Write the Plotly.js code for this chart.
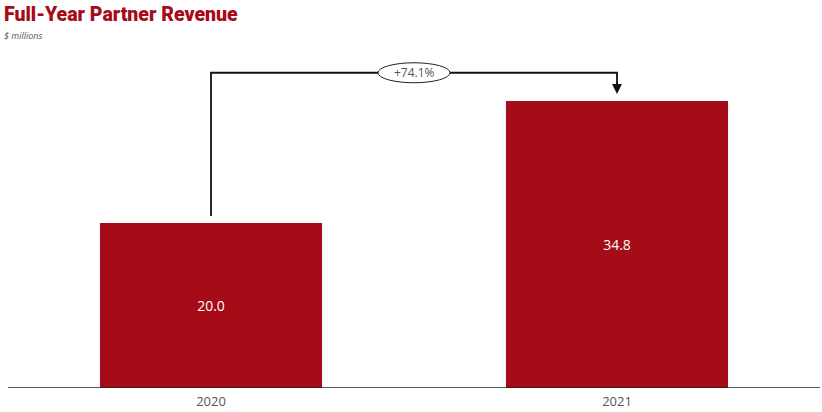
<!DOCTYPE html>
<html><head><meta charset="utf-8">
<script src="https://cdn.plot.ly/plotly-3.0.1.min.js"></script>
<style>html,body{margin:0;padding:0;background:#fff}#c{width:822px;height:412px}</style>
</head><body><div id="c"></div>
<script>
const years = ['2020', '2021'];
const revenue = [20.0, 34.8];
const changeLabel = '+74.1%';

const red = '#a60b18';
const yMax = 40;
const bracketY = revenue[1] * 1.098;
const startY = revenue[0] + 0.85;
const tipY = revenue[1] + 0.85;

const trace = {
  type: 'bar', x: [0, 1], y: revenue,
  marker: {color: red}, width: 0.547,
  text: revenue.map(v => v.toFixed(1)), textposition: 'inside', insidetextanchor: 'middle',
  textfont: {family: 'Open Sans, sans-serif', size: 14, color: '#ffffff'},
  hoverinfo: 'skip'
};

const pxX = 1 / 406, pxY = 1 / 8.25;
const layout = {
  width: 822, height: 412,
  margin: {l: 8, r: 2, t: 58, b: 24},
  paper_bgcolor: '#fff', plot_bgcolor: '#fff',
  showlegend: false,
  xaxis: {range: [-0.5, 1.5], tickvals: [0, 1], ticktext: years, showgrid: false, zeroline: false,
          showline: false, ticks: '', ticklabelstandoff: 4,
          tickfont: {family: 'Open Sans, sans-serif', size: 13, color: '#555'}, fixedrange: true},
  yaxis: {range: [0, yMax], visible: false, fixedrange: true},
  shapes: [
    {type: 'line', xref: 'paper', yref: 'y', x0: 0, x1: 1, y0: 0, y1: 0, line: {color: '#222', width: 1.5}},
    {type: 'path', xref: 'x', yref: 'y',
     path: `M 0,${startY} L 0,${bracketY} L 1,${bracketY} L 1,${tipY + 1.2}`,
     line: {color: '#111', width: 1.8}},
    {type: 'circle', xref: 'x', yref: 'y', x0: 0.5 - 36 * pxX, x1: 0.5 + 36 * pxX,
     y0: bracketY - 10 * pxY, y1: bracketY + 10 * pxY, fillcolor: '#fff', line: {color: '#222', width: 1}}
  ],
  annotations: [
    {xref: 'paper', yref: 'paper', x: -0.008, y: 1.133, xanchor: 'left', yanchor: 'middle', showarrow: false,
     text: 'Full-Year Partner Revenue', font: {family: 'Roboto, sans-serif', size: 19.5, weight: 900, color: red}},
    {xref: 'paper', yref: 'paper', x: -0.008, y: 1.067, xanchor: 'left', yanchor: 'middle', showarrow: false,
     text: '<i>$ millions</i>', font: {family: 'Open Sans, sans-serif', size: 9, color: '#555'}},
    {xref: 'x', yref: 'y', x: 1, y: tipY, ax: 1, ay: tipY + 1.5, axref: 'x', ayref: 'y',
     showarrow: true, arrowhead: 2, arrowsize: 1.1, arrowwidth: 1.8, arrowcolor: '#111', text: ''},
    {xref: 'x', yref: 'y', x: 0.5, y: bracketY, showarrow: false, text: changeLabel,
     font: {family: 'Open Sans, sans-serif', size: 12, color: '#555'}}
  ]
};
Plotly.newPlot('c', [trace], layout, {displayModeBar: false, staticPlot: true});
</script></body></html>
